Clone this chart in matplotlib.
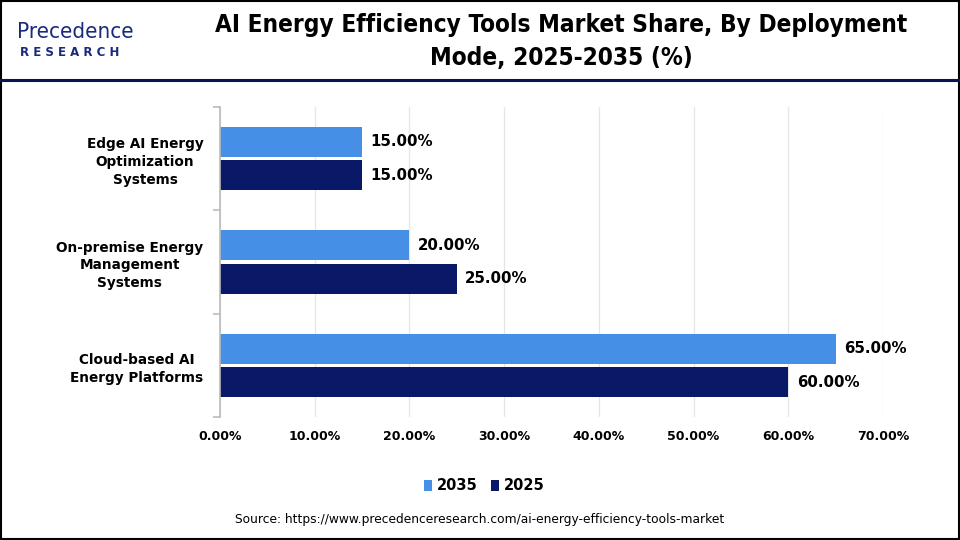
import matplotlib
matplotlib.use("Agg")
import matplotlib.pyplot as plt
from matplotlib.patches import Rectangle
from matplotlib.lines import Line2D
import numpy as np

categories = ["Cloud-based AI\nEnergy Platforms",
              "On-premise Energy\nManagement\nSystems",
              "Edge AI Energy\nOptimization\nSystems"]
values_2035 = [65.0, 20.0, 15.0]
values_2025 = [60.0, 25.0, 15.0]
series_names = ["2035", "2025"]
x_ticks = [0, 10, 20, 30, 40, 50, 60, 70]
x_tick_labels = [f"{v:.2f}%" for v in x_ticks]

c_light = "#4590E6"
c_dark = "#0A1868"

W, H = 960, 540
fig = plt.figure(figsize=(9.6, 5.4), dpi=100)
fig.patch.set_facecolor("white")

def fx(px): return px / W
def fy(py): return 1 - py / H

# border and header line
fig.add_artist(Rectangle((fx(1), fy(539)), fx(958), 538 / H, fill=False,
                         edgecolor="black", linewidth=1.5, transform=fig.transFigure))
fig.add_artist(Line2D([fx(1), fx(959)], [fy(80), fy(80)], color="#0A1550",
                      linewidth=2.2, transform=fig.transFigure))

narrow = ["DejaVu Sans"]
fig.text(fx(561), fy(25), "AI Energy Efficiency Tools Market Share, By Deployment",
         ha="center", va="center", fontsize=17.5, fontweight="bold", family=narrow,
         fontstretch="condensed")
fig.text(fx(561), fy(58), "Mode, 2025-2035 (%)",
         ha="center", va="center", fontsize=17.5, fontweight="bold", family=narrow,
         fontstretch="condensed")

# logo
fig.text(fx(17), fy(32), "Precedence", ha="left", va="center", fontsize=16,
         color="#1A2A7A", family=["DejaVu Sans"], fontstretch="condensed")
fig.text(fx(20), fy(52), "R E S E A R C H", ha="left", va="center", fontsize=8.5,
         color="#1A2A7A", fontweight="bold", family=["DejaVu Sans"])

ax = fig.add_axes([fx(220), fy(417), fx(883) - fx(220), (417 - 107) / H])
y = np.arange(len(categories))
bh = 0.29
gap = 0.035
b1 = ax.barh(y + (bh + gap) / 2, values_2035, height=bh, color=c_light, label=series_names[0])
b2 = ax.barh(y - (bh + gap) / 2, values_2025, height=bh, color=c_dark, label=series_names[1])

for bars, vals in ((b1, values_2035), (b2, values_2025)):
    for rect, v in zip(bars, vals):
        ax.text(v + 0.9, rect.get_y() + rect.get_height() / 2, f"{v:.2f}%",
                ha="left", va="center", fontsize=10.8, fontweight="bold", color="black")

ax.set_xlim(0, 70)
ax.set_ylim(-0.5, len(categories) - 0.5)
ax.set_xticks(x_ticks)
ax.set_xticklabels(x_tick_labels, fontsize=9, fontweight="bold", family=narrow)
ax.set_yticks(y)
ax.set_yticklabels(categories, fontsize=9.8, fontweight="bold", family=["DejaVu Sans"],
                   linespacing=1.35)
for lbl in ax.get_yticklabels():
    lbl.set_multialignment("center")
ax.tick_params(axis="y", length=0, pad=12)
ax.tick_params(axis="x", length=0, pad=9)
ax.set_yticks([-0.5, 0.5, 1.5, 2.5], minor=True)
ax.tick_params(axis="y", which="minor", length=5, color="#BBBBBB", width=1.2)
ax.grid(axis="x", color="#E6E6E6", linewidth=0.9)
ax.set_axisbelow(True)
for s in ("top", "right", "bottom"):
    ax.spines[s].set_visible(False)
ax.spines["left"].set_color("#BBBBBB")
ax.spines["left"].set_linewidth(1.2)

leg = fig.legend(handles=[b1, b2], labels=series_names, loc="center",
                 bbox_to_anchor=(fx(484), fy(486)), ncol=2, frameon=False,
                 handlelength=0.6, handleheight=0.7, handletextpad=0.3, columnspacing=0.9,
                 prop={"weight": "bold", "size": 10.5, "family": narrow})

fig.text(fx(480), fy(520), "Source: https://www.precedenceresearch.com/ai-energy-efficiency-tools-market",
         ha="center", va="center", fontsize=8.8, family=narrow)

fig.savefig("out.png", dpi=100, facecolor="white")
